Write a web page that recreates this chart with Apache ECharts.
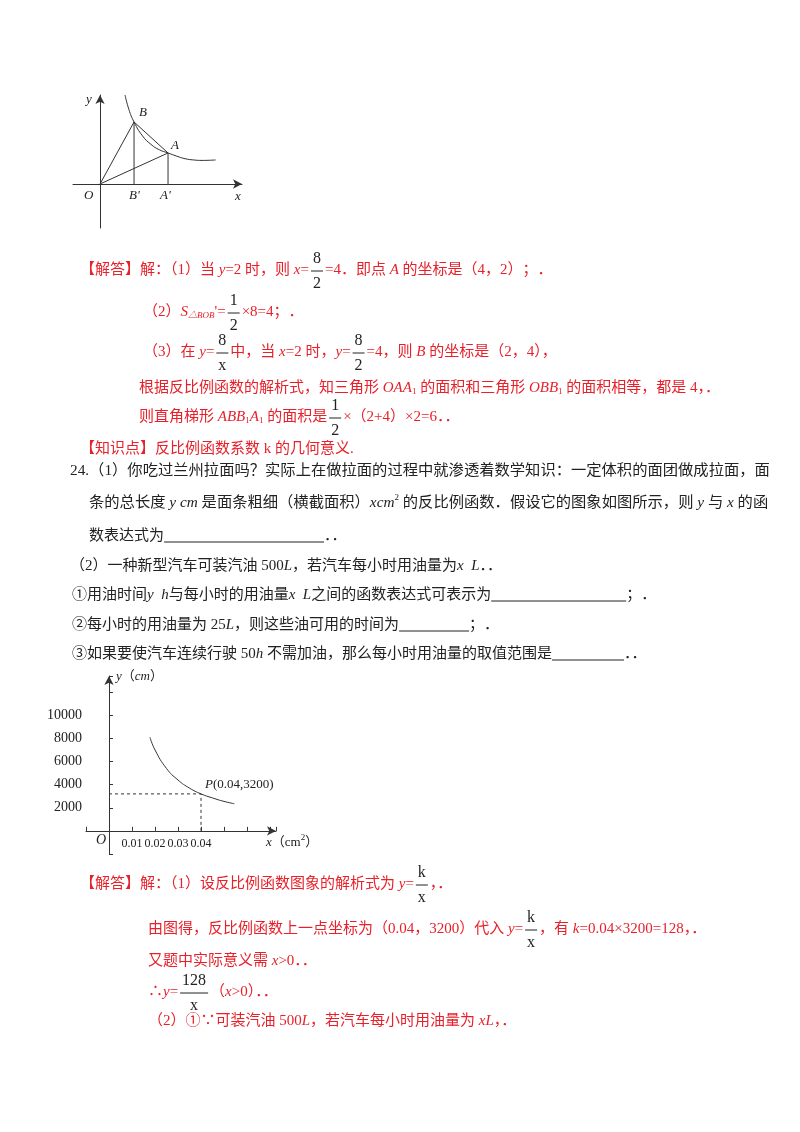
<!DOCTYPE html>
<html><head><meta charset="utf-8">
<script src="https://cdn.jsdelivr.net/npm/echarts@6/dist/echarts.min.js"></script>
<style>html,body{margin:0;background:#fff}#c{width:800px;height:1132px}</style>
</head><body><div id="c"></div>
<script>
// top figure data (y = 8/x)
const curve1 = [[1.47,5.74],[1.7,4.8],[2,4],[2.5,3.1],[3,2.55],[3.5,2.2],[4,2],[4.5,1.8],[5,1.63],[5.5,1.55],[6,1.52],[6.8,1.55]];
const pointA = [4,2];
const pointB = [2,4];
// bottom chart data
const curve2 = [[0.0178,8100],[0.02,7000],[0.025,5400],[0.03,4400],[0.035,3700],[0.04,3200],[0.045,2850],[0.05,2550],[0.0545,2350]];
const pointP = [0.04,3200];
const yTicks = [2000,4000,6000,8000,10000];
const xTicks = [0.01,0.02,0.03,0.04];

const RED = '#e8202a', BLK = '#222';
const FS = 15;
const FF = 'Liberation Serif, Noto Sans CJK SC, serif';
const cv = document.createElement('canvas').getContext('2d');
function fontStr(o){return (o.it?'italic ':'')+o.size+'px '+FF;}
function W(s,o){cv.font=fontStr(o);return cv.measureText(s).width;}
let g = [];
function txt(x,y,s,o,align){g.push({type:'text',x:x,y:y,style:{text:s,fill:o.c,fontSize:o.size,fontStyle:o.it?'italic':'normal',fontFamily:FF,align:align||'left',verticalAlign:'middle'}});}
function L(x,y,pieces,c,size){
  size=size||FS;
  pieces.forEach(p=>{
    if(typeof p==='string'){const o={c:c,size:size};txt(x,y,p,o);x+=W(p,o);}
    else if(p.i!==undefined){const o={c:c,size:size,it:true};txt(x,y,p.i,o);x+=W(p.i,o);}
    else if(p.b!==undefined){const o={c:c,size:9,it:p.it};txt(x,y+4,p.b,o);x+=W(p.b,o);}
    else if(p.p!==undefined){const o={c:c,size:9,it:p.it};txt(x,y-5,p.p,o);x+=W(p.p,o);}
    else if(p.f){x+=2;const o={c:BLK,size:size+1};const w=Math.max(W(p.f[0],o),W(p.f[1],o))+4;const cx=x+w/2;
      txt(cx,y-11,p.f[0],o,'center');txt(cx,y+14,p.f[1],o,'center');
      g.push({type:'line',shape:{x1:x,y1:y+1,x2:x+w,y2:y+1},style:{stroke:BLK,lineWidth:1}});x+=w+2;}
    else if(p.u){g.push({type:'line',shape:{x1:x,y1:y+6,x2:x+p.u,y2:y+6},style:{stroke:BLK,lineWidth:1}});x+=p.u;}
  });
}

const it13={c:BLK,size:13,it:true};
txt(86,100,'y',it13); txt(139,113,'B',it13); txt(171,146,'A',it13);
txt(84,196,'O',it13); txt(129,196,'B\'',it13); txt(160,196,'A\'',it13); txt(235,197,'x',it13);

L(80,270,['【解答】解：（1）当 ',{i:'y'},'=2 时，则 ',{i:'x'},'=',{f:['8','2']},'=4．即点 ',{i:'A'},' 的坐标是（4，2）；．'],RED);
L(143,312,['（2）',{i:'S'},{b:'△BOB',it:true},'\'=',{f:['1','2']},'×8=4；．'],RED);
L(143,352,['（3）在 ',{i:'y'},'=',{f:['8','x']},'中，当 ',{i:'x'},'=2 时，',{i:'y'},'=',{f:['8','2']},'=4，则 ',{i:'B'},' 的坐标是（2，4），'],RED);
L(139,388,['根据反比例函数的解析式，知三角形 ',{i:'OAA'},{b:'1'},' 的面积和三角形 ',{i:'OBB'},{b:'1'},' 的面积相等，都是 4，．'],RED);
L(139,417,['则直角梯形 ',{i:'ABB'},{b:'1'},{i:'A'},{b:'1'},' 的面积是',{f:['1','2']},'×（2+4）×2=6．．'],RED);
L(80,449,['【知识点】反比例函数系数 k 的几何意义.'],RED);
L(70,471,['24.（1）你吃过兰州拉面吗？实际上在做拉面的过程中就渗透着数学知识：一定体积的面团做成拉面，面'],BLK,15.3);
L(89,503,['条的总长度',{i:' y cm '},'是面条粗细（横截面积）',{i:'xcm'},{p:'2'},' 的反比例函数．假设它的图象如图所示，则',{i:' y '},'与',{i:' x '},'的函'],BLK,15.3);
L(89,536,['数表达式为',{u:160},'．．'],BLK);
L(70,566,['（2）一种新型汽车可装汽油 500',{i:'L'},'，若汽车每小时用油量为',{i:'x  L'},'．．'],BLK);
L(72,595,['①用油时间',{i:'y  h'},'与每小时的用油量',{i:'x  L'},'之间的函数表达式可表示为',{u:135},'；．'],BLK);
L(72,625,['②每小时的用油量为 25',{i:'L'},'，则这些油可用的时间为',{u:70},'；．'],BLK);
L(72,654,['③如果要使汽车连续行驶 50',{i:'h'},' 不需加油，那么每小时用油量的取值范围是',{u:72},'．．'],BLK);
L(116,677,[{i:'y'},'（',{i:'cm'},'）'],BLK,13);
txt(96,840,'O',{c:BLK,size:14,it:true});
L(205,785,[{i:'P'},'(0.04,3200)'],BLK,13);
L(266,843,[{i:'x'},'（cm',{p:'2'},'）'],BLK,13);
L(80,884,['【解答】解：（1）设反比例函数图象的解析式为 ',{i:'y'},'=',{f:['k','x']},'，．'],RED);
L(148,929,['由图得，反比例函数上一点坐标为（0.04，3200）代入 ',{i:'y'},'=',{f:['k','x']},'，有 ',{i:'k'},'=0.04×3200=128，．'],RED);
L(148,961,['又题中实际意义需 ',{i:'x'},'>0．．'],RED);
L(148,992,['∴',{i:'y'},'=',{f:['128','x']},'（',{i:'x'},'>0）．．'],RED);
L(148,1021,['（2）①∵可装汽油 500',{i:'L'},'，若汽车每小时用油量为 ',{i:'xL'},'，．'],RED);

const ax = {type:'value',splitLine:{show:false},axisLabel:{show:false},axisTick:{show:false},
  axisLine:{onZero:true,symbol:['none','arrow'],symbolSize:[7,9],lineStyle:{color:'#333',width:1}}};
const ls = {color:'#333',width:1};
const chart = echarts.init(document.getElementById('c'));
chart.setOption({
  animation:false,
  grid:[{left:73,top:95,width:169,height:133},{left:86,top:676,width:190,height:178}],
  xAxis:[Object.assign({},ax,{gridIndex:0,min:-1.59,max:8.35}),
    Object.assign({},ax,{gridIndex:1,min:-0.01,max:0.0726,interval:0.01,
      axisTick:{show:true,inside:true,length:4,lineStyle:{color:'#333'}},
      axisLabel:{show:true,color:BLK,fontSize:12,fontFamily:'Liberation Serif',margin:-16,
        formatter:v=>xTicks.some(t=>Math.abs(t-v)<1e-9)?v.toFixed(2):''}})],
  yAxis:[Object.assign({},ax,{gridIndex:0,min:-2.84,max:5.74}),
    Object.assign({},ax,{gridIndex:1,min:-2000,max:13400,interval:2000,
      axisTick:{show:true,inside:true,length:4,lineStyle:{color:'#333'}},
      axisLabel:{show:true,color:BLK,fontSize:14,fontFamily:'Liberation Serif',margin:4,
        formatter:v=>yTicks.indexOf(v)>=0?String(v):''}})],
  series:[
    {type:'line',xAxisIndex:0,yAxisIndex:0,data:curve1,smooth:true,showSymbol:false,lineStyle:ls},
    {type:'line',xAxisIndex:0,yAxisIndex:0,data:[[0,0],pointB,[pointB[0],0]],showSymbol:false,lineStyle:ls},
    {type:'line',xAxisIndex:0,yAxisIndex:0,data:[[0,0],pointA,[pointA[0],0]],showSymbol:false,lineStyle:ls},
    {type:'line',xAxisIndex:0,yAxisIndex:0,data:[pointB,pointA],showSymbol:false,lineStyle:ls},
    {type:'line',xAxisIndex:1,yAxisIndex:1,data:curve2,smooth:true,showSymbol:false,lineStyle:ls},
    {type:'line',xAxisIndex:1,yAxisIndex:1,data:[[0,pointP[1]],pointP,[pointP[0],0]],showSymbol:false,
      lineStyle:{color:'#333',width:1,type:[3,3]}}
  ],
  graphic:g
});
</script></body></html>
